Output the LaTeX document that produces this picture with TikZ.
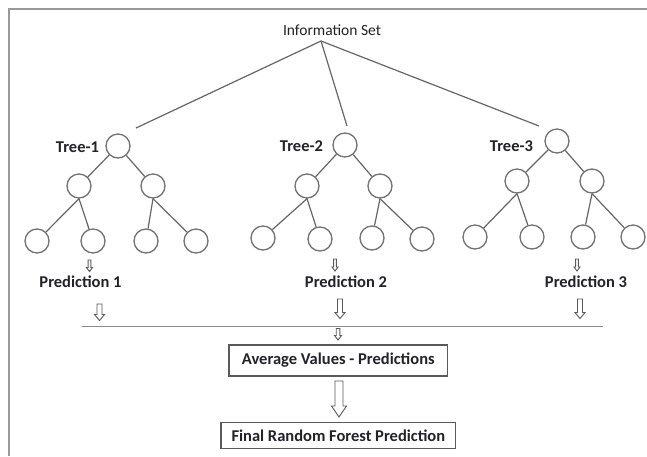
\documentclass[tikz,border=0pt]{standalone}
\usepackage{fontspec}
\setmainfont{Carlito}
\definecolor{framegray}{HTML}{9A9A9A}
\definecolor{linegray}{HTML}{8A8A8A}
\definecolor{edgegray}{HTML}{666666}
\definecolor{circgray}{HTML}{727272}
\definecolor{boxgray}{HTML}{5A5A5A}
\definecolor{txt}{HTML}{22222A}
\newcommand\blockarrow[6]{%
  \draw[arrowline] (#1-#4,#2) -- (#1+#4,#2) -- (#1+#4,#3-#6) -- (#1+#5,#3-#6)
    -- (#1,#3) -- (#1-#5,#3-#6) -- (#1-#4,#3-#6) -- cycle;}
\begin{document}
\begin{tikzpicture}[x=1pt,y=-1pt,
  treenode/.style={circle,draw=circgray,line width=1.3pt,minimum size=24pt,inner sep=0pt},
  edge/.style={draw=edgegray,line width=1.2pt},
  lbl/.style={text=txt,font=\fontsize{16.5}{19}\selectfont\bfseries,inner sep=0pt},
  boxnode/.style={draw=boxgray,line width=1.2pt,text=txt,font=\fontsize{16.5}{19}\selectfont\bfseries,
     inner sep=0pt,anchor=center},
  arrowline/.style={draw=boxgray,line width=0.9pt,line join=miter,fill=white}]
\useasboundingbox (0,0) rectangle (647,456);
\fill[white] (0,0) rectangle (647,456);
% frame
\draw[framegray,line width=1.8pt] (8.7,456) -- (8.7,8.7) -- (647,8.7);

% information set
\node[text=txt,font=\fontsize{15.5}{18}\selectfont,inner sep=0pt] (info) at (332,30) {Information Set};
\coordinate (apex) at (321,41);
\coordinate (e1) at (136,128);
\coordinate (e2) at (347,126);
\coordinate (e3) at (539,126);
\draw[edge] (apex) -- (e1);
\draw[edge] (apex) -- (e2);
\draw[edge] (apex) -- (e3);

% Tree 1
\node[treenode] (t1r) at (118,146) {};
\node[treenode] (t1a) at (79,186) {};
\node[treenode] (t1b) at (153,186) {};
\node[treenode] (t1aa) at (37,241) {};
\node[treenode] (t1ab) at (93,241) {};
\node[treenode] (t1ba) at (146,241) {};
\node[treenode] (t1bb) at (196,241) {};
% Tree 2
\node[treenode] (t2r) at (345,145) {};
\node[treenode] (t2a) at (307,186) {};
\node[treenode] (t2b) at (380,186) {};
\node[treenode] (t2aa) at (263,238) {};
\node[treenode] (t2ab) at (320,239) {};
\node[treenode] (t2ba) at (372,238) {};
\node[treenode] (t2bb) at (422,239) {};
% Tree 3
\node[treenode] (t3r) at (557,141) {};
\node[treenode] (t3a) at (517,181) {};
\node[treenode] (t3b) at (592,181) {};
\node[treenode] (t3aa) at (475,237) {};
\node[treenode] (t3ab) at (532,237) {};
\node[treenode] (t3ba) at (583,237) {};
\node[treenode] (t3bb) at (633,237) {};

\foreach \t in {1,2,3}{
  \draw[edge] (t\t r) -- (t\t a);
  \draw[edge] (t\t r) -- (t\t b);
  \draw[edge] (t\t a.south) -- (t\t aa);
  \draw[edge] (t\t a.south) -- (t\t ab);
  \draw[edge] (t\t b.south) -- (t\t ba);
  \draw[edge] (t\t b.south) -- (t\t bb);
}

% tree labels
\node[lbl] (l1) at (77.5,147) {Tree-1};
\node[lbl] (l2) at (301.5,146) {Tree-2};
\node[lbl] (l3) at (511.5,146.5) {Tree-3};

% small arrows
\blockarrow{89.5}{260}{271.5}{1.4}{3}{4}
\blockarrow{335}{259}{271}{1.4}{3}{4}
\blockarrow{577}{259}{271}{1.4}{3}{4}

% predictions
\node[lbl] (p1) at (80.5,282) {Prediction 1};
\node[lbl] (p2) at (346,282) {Prediction 2};
\node[lbl] (p3) at (586,282) {Prediction 3};

% medium arrows
\blockarrow{99.5}{304}{320.5}{2.5}{5}{6}
\blockarrow{340}{299}{318.5}{2.5}{5}{6}
\blockarrow{580}{299}{318.5}{2.5}{5}{6}

% collecting line
\coordinate (hl) at (81.7,326.5);
\coordinate (hr) at (603,326.5);
\draw[draw=linegray,line width=1.9pt] (hl) -- (hr);

\blockarrow{338}{328.5}{340}{1.8}{3.5}{4.5}

% boxes
\node[boxnode,minimum width=218.7pt,minimum height=31pt] (avg) at (338.35,360.5) {Average Values - Predictions};
\blockarrow{339}{381}{417}{4}{7.5}{11}
\node[boxnode,minimum width=234.7pt,minimum height=25.6pt] (final) at (338.35,435.5) {Final Random Forest Prediction};
\end{tikzpicture}
\end{document}
